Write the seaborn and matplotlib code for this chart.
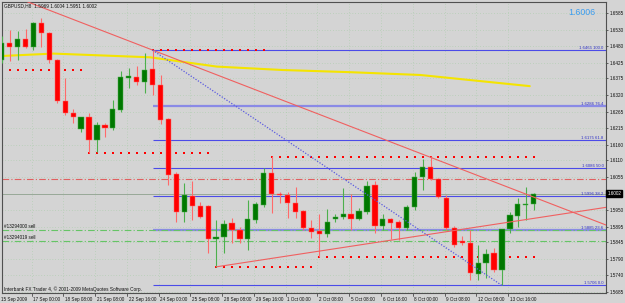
import matplotlib
matplotlib.use("Agg")
import matplotlib.pyplot as plt
import matplotlib.transforms as mtransforms
import numpy as np
import pandas as pd
import seaborn as sns

# ---------------- data ----------------
title_text = "GBPUSD,H8  1.5969 1.6004 1.5951 1.6002"
ask_text = "1.6006"
copyright_text = "Interbank FX Trader 4, \u00a9 2001-2009 MetaQuotes Software Corp."

opens = [1.6433, 1.6488, 1.6475, 1.6501, 1.6475, 1.6553, 1.6520, 1.6433, 1.6301, 1.6262,
         1.6211, 1.6249, 1.6175, 1.6224, 1.6214, 1.6272, 1.6375, 1.6379, 1.6362, 1.6404,
         1.6353, 1.6243, 1.6066, 1.5943, 1.5995, 1.5962, 1.5962, 1.5856, 1.5862, 1.5908,
         1.5885, 1.5856, 1.5917, 1.5966, 1.6069, 1.6001, 1.5998, 1.5972, 1.5946, 1.5891,
         1.5881, 1.5872, 1.5920, 1.5927, 1.5937, 1.5920, 1.5943, 1.6030, 1.5898, 1.5920,
         1.5911, 1.5891, 1.5959, 1.6056, 1.6088, 1.6049, 1.5988, 1.5891, 1.5849, 1.5843,
         1.5743, 1.5778, 1.5811, 1.5756, 1.5888, 1.5930, 1.5966, 1.5969]
highs = [1.6511, 1.6530, 1.6527, 1.6533, 1.6555, 1.6569, 1.6524, 1.6437, 1.6375, 1.6275,
         1.6249, 1.6262, 1.6233, 1.6230, 1.6304, 1.6398, 1.6408, 1.6414, 1.6456, 1.6465,
         1.6385, 1.6246, 1.6072, 1.6037, 1.6043, 1.5975, 1.5966, 1.5917, 1.5917, 1.5924,
         1.5895, 1.5982, 1.5975, 1.6085, 1.6124, 1.6008, 1.6008, 1.6024, 1.5949, 1.5917,
         1.5937, 1.5953, 1.5937, 1.6020, 1.6001, 1.5956, 1.6043, 1.6043, 1.5937, 1.5924,
         1.5917, 1.5966, 1.6072, 1.6114, 1.6124, 1.6052, 1.5998, 1.5898, 1.5865, 1.5885,
         1.5837, 1.5824, 1.5827, 1.5888, 1.5943, 1.5988, 1.6024, 1.6004]
lows = [1.6424, 1.6430, 1.6433, 1.6472, 1.6466, 1.6475, 1.6424, 1.6295, 1.6256, 1.6230,
        1.6201, 1.6133, 1.6137, 1.6185, 1.6208, 1.6266, 1.6343, 1.6353, 1.6327, 1.6320,
        1.6227, 1.6030, 1.5911, 1.5911, 1.5917, 1.5924, 1.5811, 1.5766, 1.5811, 1.5843,
        1.5843, 1.5820, 1.5908, 1.5959, 1.5940, 1.5972, 1.5924, 1.5924, 1.5885, 1.5859,
        1.5798, 1.5862, 1.5911, 1.5920, 1.5885, 1.5917, 1.5937, 1.5875, 1.5885, 1.5856,
        1.5853, 1.5885, 1.5949, 1.6014, 1.6046, 1.5988, 1.5885, 1.5830, 1.5837, 1.5724,
        1.5724, 1.5730, 1.5749, 1.5706, 1.5875, 1.5895, 1.5917, 1.5951]
closes = [1.6488, 1.6475, 1.6501, 1.6475, 1.6553, 1.6520, 1.6433, 1.6301, 1.6262, 1.6249,
          1.6249, 1.6175, 1.6224, 1.6214, 1.6275, 1.6379, 1.6382, 1.6362, 1.6401, 1.6353,
          1.6240, 1.6062, 1.5943, 1.5998, 1.5962, 1.5927, 1.5856, 1.5862, 1.5904, 1.5885,
          1.5856, 1.5920, 1.5969, 1.6069, 1.6001, 1.5998, 1.5972, 1.5943, 1.5891, 1.5878,
          1.5872, 1.5911, 1.5927, 1.5937, 1.5920, 1.5946, 1.6027, 1.5898, 1.5920, 1.5908,
          1.5891, 1.5959, 1.6056, 1.6088, 1.6049, 1.5991, 1.5891, 1.5837, 1.5843, 1.5746,
          1.5778, 1.5808, 1.5756, 1.5888, 1.5933, 1.5969, 1.5969, 1.6002]

time_labels = ["15 Sep 2009", "17 Sep 00:00", "18 Sep 08:00", "21 Sep 08:00", "22 Sep 16:00",
               "24 Sep 00:00", "25 Sep 08:00", "28 Sep 08:00", "29 Sep 16:00", "1 Oct 00:00",
               "2 Oct 08:00", "5 Oct 08:00", "6 Oct 16:00", "8 Oct 00:00", "9 Oct 08:00",
               "12 Oct 08:00", "13 Oct 16:00"]
time_label_step = 4

price_ticks = [1.6585, 1.6530, 1.6480, 1.6425, 1.6375, 1.6320, 1.6265, 1.6215, 1.6160,
               1.6110, 1.6055, 1.5950, 1.5895, 1.5845, 1.5790, 1.5740, 1.5685]
price_tick_labels = ["1.6585", "1.6530", "1.6480", "1.6425", "1.6375", "1.6320", "1.6265",
                     "1.6215", "1.6160", "1.6110", "1.6055", "1.5950", "1.5895", "1.5845",
                     "1.5790", "1.5740", "1.5685"]

fib_levels = [0.0, 23.6, 38.2, 50.0, 61.8, 76.4, 100.0]
fib_prices = [1.5706, 1.5885, 1.5996, 1.6086, 1.6175, 1.6286, 1.6465]
fib_start_bar = 19

fractal_start = [0, 19, 11, 34, 27, 40]
fractal_end = [10, 33, 26, 67, 39, 67]
fractal_price = [1.6401, 1.6465, 1.6133, 1.6122, 1.5766, 1.5798]

ma_bars = [-0.2, 6.5, 18.7, 27.1, 35.4, 43.9, 52.7, 66.5]
ma_prices = [1.6446, 1.6454, 1.6442, 1.6412, 1.6401, 1.6394, 1.6385, 1.6349]

resist_bars = [3.15, 76.1]
resist_prices = [1.6622, 1.5901]
support_bars = [27, 76.1]
support_prices = [1.5766, 1.5958]
fib_diag_bars = [19, 63]
fib_diag_prices = [1.6465, 1.5706]

stop_price = 1.6048
order_prices = [1.5885, 1.5849]
order_labels = ["#13294000 sell", "#13294019 sell"]
bid_price = 1.6002
bid_label = "1.6002"

# ---------------- style ----------------
BG = "#d4d4d4"
sns.set_style("white", {"axes.facecolor": BG, "figure.facecolor": BG,
                        "axes.edgecolor": "#505050"})
plt.rcParams["font.family"] = ["Liberation Sans", "DejaVu Sans"]

fig = plt.figure(figsize=(6.25, 3.03), dpi=100)
fig.patch.set_facecolor(BG)
W, H = 625.0, 303.0
ax = fig.add_axes([2 / W, (H - 293) / H, (606 - 2) / W, (293 - 2) / H])
ax.set_facecolor(BG)

n = len(opens)
bars = np.arange(n)
df = pd.DataFrame({"bar": bars, "open": opens, "high": highs, "low": lows, "close": closes})
df["up"] = df["close"] >= df["open"]

ax.set_xlim(0.04, 76.1)
ax.set_ylim(1.56817, 1.66204)

# grid (faint dotted)
tick_bars = [i * time_label_step - 0.23 for i in range(len(time_labels))]
for tb in tick_bars:
    ax.axvline(tb, color="#a6cca6", lw=0.5, ls=(0, (1, 3)), zorder=0)
for p in price_ticks:
    ax.axhline(p, color="#a6cca6", lw=0.5, ls=(0, (1, 3)), zorder=0)

# fibonacci levels
x_end = ax.get_xlim()[1]
ytrans = mtransforms.blended_transform_factory(ax.transAxes, ax.transData)
for lvl, p in zip(fib_levels, fib_prices):
    thick = lvl in (76.4, 23.6)
    ax.hlines(p, fib_start_bar, x_end, color="#8a8ae6" if thick else "#4b4be8",
              lw=1.6 if thick else 0.8, zorder=2)
    ax.text(0.996, p, f"{p:.4f} {lvl:.1f}", transform=ytrans,
            ha="right", va="bottom", fontsize=3.1, color="#3030c8", zorder=6)

# horizontal order/stop/bid lines
ax.axhline(stop_price, color="#e06060", lw=0.8, ls=(0, (6, 2, 1, 2)), zorder=2)
for p in order_prices:
    ax.axhline(p, color="#66c466", lw=0.8, ls=(0, (6, 2, 1, 2)), zorder=2)
ax.axhline(bid_price, color="#98a898", lw=0.7, zorder=2)

# fractal dotted lines
for s, e, p in zip(fractal_start, fractal_end, fractal_price):
    xs = np.arange(s, e + 1)
    ax.scatter(xs, [p] * len(xs), marker="s", s=2.4, color="#ff0000", linewidths=0, zorder=2)

# moving average (yellow)
sns.lineplot(x=ma_bars, y=ma_prices, ax=ax, color="#f4e400", lw=1.5, zorder=3, legend=False)

# candles
for up, body_col, wick_col in [(True, "#007800", "#4cb04c"), (False, "#ff0000", "#ff6a6a")]:
    d = df[df["up"] == up]
    ax.vlines(d["bar"], d["low"], d["high"], color=wick_col, lw=0.8, zorder=4)
    heights = np.maximum((d["close"] - d["open"]).abs(), 0.0003)
    ax.bar(d["bar"], heights, bottom=np.minimum(d["open"], d["close"]), width=0.66,
           color=body_col, edgecolor=wick_col, linewidth=0.35, zorder=5)

# trend lines
sns.lineplot(x=resist_bars, y=resist_prices, ax=ax, color="#f06060", lw=0.8, zorder=6, legend=False)
sns.lineplot(x=support_bars, y=support_prices, ax=ax, color="#f06060", lw=0.8, zorder=6, legend=False)
ax.plot(fib_diag_bars, fib_diag_prices, color="#5a5ae0", lw=0.9, ls=(0, (1, 1.3)), zorder=6)

# texts
ax.text(0.003, 0.997, title_text, transform=ax.transAxes, ha="left", va="top",
        fontsize=3.4, color="#101010", zorder=7)
ax.text(0.937, 0.963, ask_text, transform=ax.transAxes, ha="left", va="center",
        fontsize=6.3, color="#3a9cf0", zorder=7)
ax.text(0.003, 0.004, copyright_text, transform=ax.transAxes, ha="left", va="bottom",
        fontsize=3.4, color="#101010", zorder=7)
for p, lab in zip(order_prices, order_labels):
    ax.text(0.003, p + 0.00025, lab, transform=ytrans, ha="left", va="bottom",
            fontsize=3.3, color="#101010", zorder=7)

# right price axis
ax.yaxis.tick_right()
ax.set_yticks(price_ticks)
ax.set_yticklabels(price_tick_labels)
ax.tick_params(axis="y", labelsize=3.3, length=1.6, width=0.5, pad=0.8,
               color="#303030", labelcolor="#101010", right=True, left=False)
ax.set_xticks([])
ax.text(1.002, bid_price, bid_label, transform=ytrans, ha="left", va="center",
        fontsize=3.3, color="white", zorder=8, clip_on=False,
        bbox=dict(boxstyle="square,pad=0.25", fc="black", ec="black"))

# time axis labels
xtrans = mtransforms.blended_transform_factory(ax.transData, ax.transAxes)
for i, lab in enumerate(time_labels):
    tb = i * time_label_step - 0.23
    if tb > ax.get_xlim()[0]:
        ax.plot([tb, tb], [0, -0.012], transform=xtrans, color="#303030", lw=0.5, clip_on=False)
    ax.text(tb + 0.2, -0.022, lab, transform=xtrans, ha="left", va="center",
            fontsize=3.3, color="#101010", clip_on=False)

for sp in ax.spines.values():
    sp.set_visible(True)
    sp.set_color("#505050")
    sp.set_linewidth(0.8)

ax.set_xlabel("")
ax.set_ylabel("")
fig.savefig("out.png", dpi=100, facecolor=BG)
